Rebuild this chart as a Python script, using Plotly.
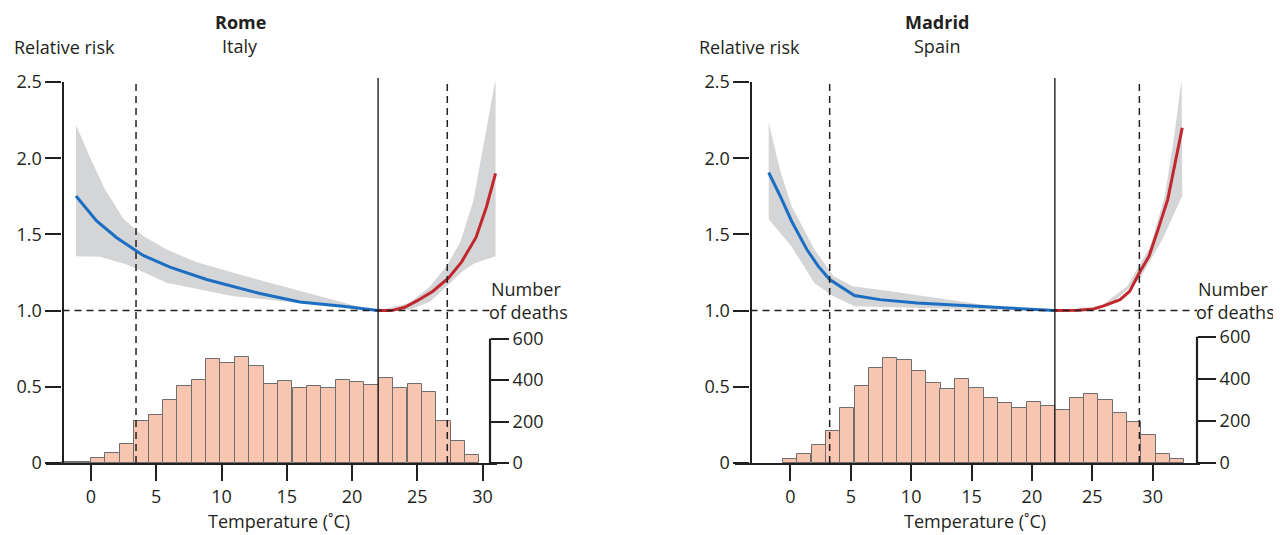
import plotly.graph_objects as go

# ---------------- data ----------------
# Rome, Italy
rome_bin_centers = [-1.65, -0.55, 0.55, 1.65, 2.76, 3.86, 4.96, 6.06, 7.17, 8.27, 9.37, 10.47,
                    11.58, 12.68, 13.78, 14.88, 15.99, 17.09, 18.19, 19.29, 20.40, 21.50,
                    22.60, 23.70, 24.81, 25.91, 27.01, 28.11, 29.21]
rome_bin_width = 1.10
rome_deaths = [4, 6, 26, 48, 92, 203, 232, 306, 372, 401, 502, 483, 512, 468, 380, 397, 360,
               370, 360, 399, 391, 375, 410, 363, 381, 343, 204, 105, 40]

rome_cold_t = [-1.15, 0.43, 1.97, 4.0, 6.05, 8.86, 12.95, 16.0, 19.3, 22.0]
rome_cold_rr = [1.752, 1.588, 1.478, 1.362, 1.285, 1.204, 1.112, 1.057, 1.028, 1.0]
rome_heat_t = [22.0, 23.0, 24.0, 25.0, 26.2, 27.4, 28.4, 29.5, 30.3, 31.0]
rome_heat_rr = [1.0, 1.0, 1.02, 1.065, 1.127, 1.215, 1.32, 1.48, 1.68, 1.90]

rome_cold_hi_t = [-1.15, -0.1, 1.07, 2.48, 4.0, 5.8, 8.0, 10.9, 14.7, 18.3, 20.1, 22.0]
rome_cold_hi = [2.22, 2.01, 1.796, 1.603, 1.49, 1.401, 1.32, 1.248, 1.16, 1.077, 1.035, 1.0]
rome_cold_lo_t = [-1.15, 0.69, 2.73, 5.8, 10.9, 16.0, 19.3, 22.0]
rome_cold_lo = [1.357, 1.353, 1.303, 1.182, 1.094, 1.05, 1.018, 1.0]
rome_heat_hi_t = [22.0, 24.4, 26.0, 27.3, 28.3, 29.3, 30.0, 31.0]
rome_heat_hi = [1.0, 1.05, 1.16, 1.30, 1.45, 1.72, 2.05, 2.52]
rome_heat_lo_t = [22.0, 24.4, 26.0, 27.4, 28.5, 29.4, 31.0]
rome_heat_lo = [1.0, 1.005, 1.06, 1.17, 1.26, 1.31, 1.357]

rome_mmt = 22.0
rome_p_low = 3.45
rome_p_high = 27.3

# Madrid, Spain
madrid_bin_centers = [-0.04, 1.15, 2.34, 3.52, 4.71, 5.90, 7.09, 8.27, 9.46, 10.65, 11.84,
                      13.02, 14.21, 15.40, 16.59, 17.77, 18.96, 20.15, 21.34, 22.52, 23.71,
                      24.90, 26.09, 27.27, 28.46, 29.65, 30.84, 32.02]
madrid_bin_width = 1.187
madrid_deaths = [19, 44, 85, 154, 259, 368, 452, 498, 490, 435, 380, 352, 397, 358, 311, 283,
                 262, 291, 269, 250, 311, 330, 298, 236, 193, 134, 41, 17]

madrid_cold_t = [-1.8, -0.85, 0.09, 1.36, 2.3, 3.25, 5.3, 7.4, 10.5, 14.6, 17.8, 21.9]
madrid_cold_rr = [1.906, 1.752, 1.588, 1.401, 1.292, 1.204, 1.099, 1.072, 1.05, 1.033, 1.015, 1.0]
madrid_heat_t = [21.9, 23.8, 25.1, 26.0, 27.3, 28.1, 28.9, 29.7, 30.45, 31.25, 32.45]
madrid_heat_rr = [1.0, 1.002, 1.011, 1.033, 1.072, 1.127, 1.248, 1.357, 1.533, 1.73, 2.20]

madrid_cold_hi_t = [-1.8, -0.85, 0.09, 2.0, 3.57, 5.15, 8.3, 14.95, 17.8, 21.9]
madrid_cold_hi = [2.235, 1.92, 1.686, 1.40, 1.226, 1.16, 1.127, 1.05, 1.017, 1.0]
madrid_cold_lo_t = [-1.8, 0.09, 2.0, 3.57, 5.3, 9.9, 17.8, 21.9]
madrid_cold_lo = [1.60, 1.42, 1.18, 1.094, 1.028, 1.018, 1.005, 1.0]
madrid_heat_hi_t = [21.9, 25.7, 27.9, 29.8, 31.0, 31.75, 32.4]
madrid_heat_hi = [1.0, 1.028, 1.16, 1.42, 1.75, 2.125, 2.52]
madrid_heat_lo_t = [21.9, 26.3, 28.9, 30.8, 32.45]
madrid_heat_lo = [1.0, 1.028, 1.204, 1.467, 1.752]

madrid_mmt = 21.9
madrid_p_low = 3.25
madrid_p_high = 28.9

rr_ticks = [0, 0.5, 1.0, 1.5, 2.0, 2.5]
rr_ticktext = ["0", "0.5", "1.0", "1.5", "2.0", "2.5"]
death_ticks = [0, 200, 400, 600]
temp_ticks = [0, 5, 10, 15, 20, 25, 30]

# ---------------- style / layout ----------------
PAGE_OFF = 8               # default <body> margin of the html page (left/top)
W, H = 1281 - PAGE_OFF, 535 - PAGE_OFF
FONT = "Open Sans"
TXT = "#231f20"
AX = "#231f20"
BLUE = "#1b6ec2"
RED = "#c1272d"
BAND = "#d4d5d7"
BAR = "#f8c5b0"
BAR_LINE = "#6e6e6e"


def px(x):
    return (x - PAGE_OFF) / W


def py(y):
    return 1 - (y - PAGE_OFF) / H


y_dom = [py(463), py(82)]

panels = [
    dict(name="Rome", country="Italy", xa="x", ya="y", ya2="y2",
         dom=(46, 497), trange=(-3.448, 31.11), left=62.5, right=490, d_max=1839,
         bins=rome_bin_centers, bw=rome_bin_width, deaths=rome_deaths,
         ct=rome_cold_t, crr=rome_cold_rr, ht=rome_heat_t, hrr=rome_heat_rr,
         chit=rome_cold_hi_t, chi=rome_cold_hi, clot=rome_cold_lo_t, clo=rome_cold_lo,
         hhit=rome_heat_hi_t, hhi=rome_heat_hi, hlot=rome_heat_lo_t, hlo=rome_heat_lo,
         mmt=rome_mmt, p1=rome_p_low, p2=rome_p_high, title_x=240, temp_x=279, rr_x=12),
    dict(name="Madrid", country="Spain", xa="x2", ya="y3", ya2="y4",
         dom=(735, 1200), trange=(-4.59, 33.92), left=750.5, right=1197, d_max=1810,
         bins=madrid_bin_centers, bw=madrid_bin_width, deaths=madrid_deaths,
         ct=madrid_cold_t, crr=madrid_cold_rr, ht=madrid_heat_t, hrr=madrid_heat_rr,
         chit=madrid_cold_hi_t, chi=madrid_cold_hi, clot=madrid_cold_lo_t, clo=madrid_cold_lo,
         hhit=madrid_heat_hi_t, hhi=madrid_heat_hi, hlot=madrid_heat_lo_t, hlo=madrid_heat_lo,
         mmt=madrid_mmt, p1=madrid_p_low, p2=madrid_p_high, title_x=937, temp_x=975, rr_x=697),
]

fig = go.Figure()
shapes = []
annotations = []
layout_axes = {}

tickfont = dict(family=FONT, size=18, color=TXT)

for p in panels:
    xa, ya, ya2 = p["xa"], p["ya"], p["ya2"]
    # confidence bands
    for tt_hi, hi, tt_lo, lo in [(p["chit"], p["chi"], p["clot"], p["clo"]),
                                 (p["hhit"], p["hhi"], p["hlot"], p["hlo"])]:
        fig.add_trace(go.Scatter(x=tt_hi + tt_lo[::-1], y=hi + lo[::-1], fill="toself",
                                 fillcolor=BAND, line=dict(width=0), mode="lines",
                                 xaxis=xa, yaxis=ya, hoverinfo="skip", showlegend=False))
    fig.add_trace(go.Scatter(x=p["ct"], y=p["crr"], mode="lines", line=dict(color=BLUE, width=3),
                             xaxis=xa, yaxis=ya, showlegend=False))
    fig.add_trace(go.Scatter(x=p["ht"], y=p["hrr"], mode="lines", line=dict(color=RED, width=3),
                             xaxis=xa, yaxis=ya, showlegend=False))
    # histogram of deaths
    fig.add_trace(go.Bar(x=p["bins"], y=p["deaths"], width=p["bw"],
                         marker=dict(color=BAR, line=dict(color=BAR_LINE, width=1)),
                         xaxis=xa, yaxis=ya2, showlegend=False))

    xkey = "xaxis" if xa == "x" else "xaxis2"
    ykey = "yaxis" if ya == "y" else "yaxis3"
    y2key = "yaxis2" if ya2 == "y2" else "yaxis4"
    layout_axes[xkey] = dict(domain=[px(p["dom"][0]), px(p["dom"][1])], anchor=ya,
                             range=list(p["trange"]), tickvals=temp_ticks, ticks="outside",
                             ticklen=16, tickwidth=2.2, tickcolor=AX, showline=True,
                             linewidth=2.2, linecolor=AX, showgrid=False, zeroline=False,
                             tickfont=tickfont, automargin=False, fixedrange=True)
    layout_axes[ykey] = dict(domain=y_dom, range=[0, 2.5], anchor="free",
                             position=px(p["left"]), tickvals=rr_ticks, ticktext=rr_ticktext,
                             ticks="outside", ticklen=16, tickwidth=2.2, tickcolor=AX,
                             showline=True, linewidth=2.2, linecolor=AX, showgrid=False,
                             zeroline=False, tickfont=tickfont, automargin=False,
                             fixedrange=True)
    layout_axes[y2key] = dict(overlaying=ya, side="right", anchor="free",
                              position=px(p["right"]), range=[0, p["d_max"]],
                              tickvals=death_ticks, ticks="outside", ticklen=18, tickwidth=2.2,
                              tickcolor=AX, showline=False, showgrid=False, zeroline=False,
                              tickfont=tickfont, automargin=False, fixedrange=True)

    # right axis line (0..600 only)
    shapes.append(dict(type="line", xref="paper", yref=ya2, x0=px(p["right"]), x1=px(p["right"]),
                       y0=0, y1=death_ticks[-1], line=dict(color=AX, width=2.2), layer="above"))
    # minimum-mortality temperature (solid) and percentile lines (dashed)
    shapes.append(dict(type="line", xref=xa, yref="paper", x0=p["mmt"], x1=p["mmt"],
                       y0=py(463), y1=py(78), line=dict(color=AX, width=1.4), layer="above"))
    for t in (p["p1"], p["p2"]):
        shapes.append(dict(type="line", xref=xa, yref=ya, x0=t, x1=t, y0=0, y1=2.5,
                           line=dict(color=AX, width=1.5, dash="7px,5px"), layer="above"))
    shapes.append(dict(type="line", xref="paper", yref=ya, x0=px(p["left"]), x1=px(p["right"]),
                       y0=1.0, y1=1.0, line=dict(color=AX, width=1.5, dash="7px,5px"),
                       layer="above"))

    # texts
    f18 = dict(family=FONT, size=18, color=TXT)
    annotations += [
        dict(text="<b>%s</b>" % p["name"], x=px(p["title_x"]), y=py(22), font=f18,
             xanchor="center"),
        dict(text=p["country"], x=px(p["title_x"]), y=py(46), font=f18, xanchor="center"),
        dict(text="Relative risk", x=px(p["rr_x"]), y=py(47), font=f18, xanchor="left"),
        dict(text="Number", x=px(p["right"] - 1), y=py(289), font=f18, xanchor="left"),
        dict(text="of deaths", x=px(p["right"] - 3), y=py(312), font=f18, xanchor="left"),
        dict(text="Temperature (˚C)", x=px(p["temp_x"]), y=py(521), font=f18,
             xanchor="center"),
    ]

for a in annotations:
    a.update(xref="paper", yref="paper", showarrow=False, yanchor="middle")

fig.update_layout(
    width=W, height=H, margin=dict(l=0, r=0, t=0, b=0, pad=0), autosize=False,
    paper_bgcolor="white", plot_bgcolor="white",
    bargap=0, showlegend=False, shapes=shapes, annotations=annotations,
    font=dict(family=FONT, size=18, color=TXT),
    **layout_axes,
)

fig.write_html("out.html", config={"displayModeBar": False})
